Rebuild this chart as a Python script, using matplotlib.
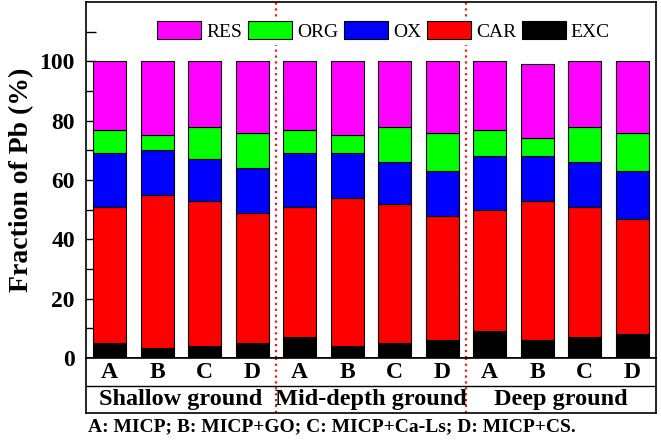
import matplotlib.pyplot as plt
import numpy as np

plt.rcParams['font.family'] = ['Liberation Serif', 'DejaVu Serif']

samples = ["A", "B", "C", "D"] * 3
groups = ["Shallow ground", "Mid-depth ground", "Deep ground"]
fractions = ["RES", "ORG", "OX", "CAR", "EXC"]

EXC = [5, 3.5, 4, 5, 7, 4, 5, 6, 9, 6, 7, 8]
CAR = [46, 51.5, 49, 44, 44, 50, 47, 42, 41, 47, 44, 39]
OX = [18, 15, 14, 15, 18, 15, 14, 15, 18, 15, 15, 16]
ORG = [8, 5, 11, 12, 8, 6, 12, 13, 9, 6, 12, 13]
RES = [23, 25, 22, 24, 23, 25, 22, 24, 23, 25, 22, 24]

colors = {"RES": "#ff00ff", "ORG": "#00ff00", "OX": "#0000ff", "CAR": "#ff0000", "EXC": "#000000"}

fig = plt.figure(figsize=(6.61, 4.40), dpi=100)
ax = fig.add_axes([86 / 661, 82 / 440, 570 / 661, 356 / 440])
tab = fig.add_axes([86 / 661, 27 / 440, 570 / 661, 55 / 440])

x = np.arange(len(samples))
stack = {"EXC": EXC, "CAR": CAR, "OX": OX, "ORG": ORG, "RES": RES}
bottom = np.zeros(len(samples))
bars = {}
for name in ["EXC", "CAR", "OX", "ORG", "RES"]:
    vals = np.array(stack[name], dtype=float)
    bars[name] = ax.bar(x, vals, 0.7, bottom=bottom, color=colors[name],
                        edgecolor="black", linewidth=0.8, label=name, zorder=2)
    bottom += vals

ax.set_xlim(-0.5, 11.5)
ax.set_ylim(0, 120)
ax.set_xticks([])
ax.set_yticks([0, 20, 40, 60, 80, 100])
ax.set_yticks([10, 30, 50, 70, 90, 110], minor=True)
ax.tick_params(axis="y", which="major", direction="in", length=7, width=1, pad=8,
               labelsize=17)
ax.tick_params(axis="y", which="minor", direction="in", length=7, width=1)
for lab in ax.get_yticklabels():
    lab.set_fontweight("bold")
for s in ax.spines.values():
    s.set_linewidth(1.2)
ax.set_ylabel("Fraction of Pb (%)", fontsize=20, fontweight="bold", labelpad=4)

for xv in [3.5, 7.5]:
    ax.axvline(xv, color="#e02020", linestyle=":", linewidth=1.6, zorder=1)
    tab.axvline(xv, color="#e02020", linestyle=":", linewidth=1.6)

leg = ax.legend([bars[n] for n in fractions], fractions, loc="center",
                bbox_to_anchor=(0.522, 0.918), ncol=5, fontsize=14,
                handlelength=2.26, handleheight=1.03, handletextpad=0.26,
                columnspacing=0.3, borderpad=0.2, frameon=True, fancybox=False)
leg.get_frame().set_linewidth(0)
leg.get_frame().set_facecolor("white")
leg.get_frame().set_alpha(1)
leg.set_zorder(5)

# table below the axis
tab.set_xlim(-0.5, 11.5)
tab.set_ylim(0, 2)
tab.set_xticks([])
tab.set_yticks([])
for s in tab.spines.values():
    s.set_linewidth(1.2)
tab.axhline(1, color="black", linewidth=1)
for xi, s in zip(x, samples):
    tab.text(xi, 1.48, s, ha="center", va="center", fontsize=17, fontweight="bold")
for gi, g in enumerate(groups):
    tab.text(gi * 4 + 1.5, 0.5, g, ha="center", va="center", fontsize=17.5,
             fontweight="bold")

fig.text(88 / 661, 1 - 427 / 440, "A: MICP; B: MICP+GO; C: MICP+Ca-Ls; D: MICP+CS.",
         ha="left", va="center", fontsize=14, fontweight="bold")

fig.savefig("out.png", dpi=100)
